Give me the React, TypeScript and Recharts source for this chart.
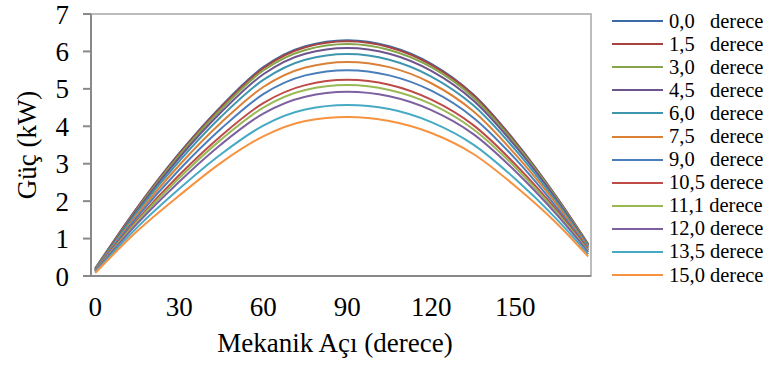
import { LineChart, Line, XAxis, YAxis, ReferenceArea } from 'recharts';

const angles = [0, 15, 30, 45, 60, 75, 90, 105, 120, 135, 150, 165, 176];

const deg00 = [0.2, 1.83, 3.28, 4.54, 5.58, 6.14, 6.3, 6.14, 5.67, 4.85, 3.59, 2.08, 0.85];
const deg15 = [0.2, 1.82, 3.26, 4.51, 5.55, 6.11, 6.27, 6.11, 5.64, 4.83, 3.57, 2.07, 0.85];
const deg30 = [0.19, 1.79, 3.22, 4.46, 5.49, 6.04, 6.2, 6.04, 5.58, 4.77, 3.53, 2.05, 0.83];
const deg45 = [0.18, 1.76, 3.16, 4.38, 5.39, 5.94, 6.09, 5.94, 5.48, 4.69, 3.47, 2.01, 0.81];
const deg60 = [0.17, 1.71, 3.07, 4.26, 5.24, 5.78, 5.93, 5.78, 5.33, 4.56, 3.37, 1.95, 0.79];
const deg75 = [0.16, 1.64, 2.96, 4.1, 5.05, 5.57, 5.72, 5.58, 5.15, 4.4, 3.25, 1.89, 0.76];
const deg90 = [0.15, 1.58, 2.84, 3.94, 4.86, 5.36, 5.5, 5.36, 4.95, 4.23, 3.13, 1.81, 0.73];
const deg105 = [0.14, 1.5, 2.7, 3.75, 4.62, 5.1, 5.24, 5.11, 4.71, 4.03, 2.98, 1.73, 0.69];
const deg111 = [0.13, 1.46, 2.62, 3.65, 4.5, 4.97, 5.1, 4.97, 4.59, 3.92, 2.9, 1.68, 0.67];
const deg120 = [0.12, 1.4, 2.52, 3.52, 4.34, 4.79, 4.92, 4.8, 4.43, 3.79, 2.8, 1.62, 0.64];
const deg135 = [0.1, 1.3, 2.33, 3.26, 4.02, 4.45, 4.57, 4.46, 4.11, 3.51, 2.59, 1.5, 0.58];
const deg150 = [0.08, 1.2, 2.15, 3.03, 3.73, 4.14, 4.25, 4.14, 3.82, 3.26, 2.4, 1.39, 0.52];

const seriesNames = ['0,0   derece', '1,5   derece', '3,0   derece', '4,5   derece', '6,0   derece', '7,5   derece',
  '9,0   derece', '10,5 derece', '11,1 derece', '12,0 derece', '13,5 derece', '15,0 derece'];
const seriesValues = [deg00, deg15, deg30, deg45, deg60, deg75, deg90, deg105, deg111, deg120, deg135, deg150];
const colors = ['#3C6AA5', '#A8423F', '#86A44A', '#6E548D', '#3D96AE', '#DA8137',
  '#4A7EBB', '#BE4B48', '#98B954', '#7D60A0', '#46AAC5', '#F69240'];

const xTicks = [0, 30, 60, 90, 120, 150];
const yTicks = [0, 1, 2, 3, 4, 5, 6, 7];

const data = angles.map((a, i) => {
  const row: Record<string, number> = { angle: a };
  seriesValues.forEach((s, k) => { row[`s${k}`] = s[i]; });
  return row;
});

const FONT = '"Liberation Serif", "Times New Roman", serif';

function LegendBox() {
  return (
    <div style={{ position: 'absolute', left: 612, top: 9.5, fontFamily: FONT, fontSize: 20.5, color: '#000' }}>
      {seriesNames.map((n, i) => (
        <div key={n} style={{ display: 'flex', alignItems: 'center', height: 23.1 }}>
          <div style={{ width: 51, height: 2, background: colors[i], marginRight: 6 }} />
          <span style={{ whiteSpace: 'pre', lineHeight: '23px' }}>{n}</span>
        </div>
      ))}
    </div>
  );
}

export default function App() {
  return (
    <div style={{ position: 'absolute', left: 0, top: 0, width: 773, height: 367, background: '#fff', fontFamily: FONT }}>
      <LineChart width={773} height={367} data={data} margin={{ top: 14, right: 182, left: 0, bottom: 0 }} style={{ fontFamily: FONT }}>
        <XAxis
          dataKey="angle"
          type="number"
          domain={[-1.5, 177]}
          ticks={xTicks}
          interval={0}
          allowDataOverflow
          height={91}
          tickLine={false}
          tickSize={0}
          tickMargin={21}
          axisLine={{ stroke: '#898989', strokeWidth: 2 }}
          tick={{ fill: '#000', fontSize: 27, fontFamily: FONT }}
          label={{
            content: () => (
              <text x={335} y={343} textAnchor="middle" dominantBaseline="central" fontSize={27} fontFamily={FONT} fill="#000">
                Mekanik Açı (derece)
              </text>
            ),
          }}
        />
        <YAxis
          type="number"
          domain={[0, 7]}
          ticks={yTicks}
          interval={0}
          width={91}
          tickSize={8}
          tickMargin={14}
          tickLine={{ stroke: '#898989', strokeWidth: 2 }}
          axisLine={{ stroke: '#898989', strokeWidth: 2 }}
          tick={{ fill: '#000', fontSize: 27, fontFamily: FONT }}
          label={{
            content: () => (
              <text x={27} y={145} transform="rotate(-90 27 145)" textAnchor="middle" dominantBaseline="central" fontSize={27} fontFamily={FONT} fill="#000">
                Güç (kW)
              </text>
            ),
          }}
        />
        <ReferenceArea x1={-1.5} x2={177} y1={0} y2={7} fill="none" stroke="#A6A6A6" strokeWidth={1.5} ifOverflow="visible" />
        {seriesValues.map((_, k) => (
          <Line
            key={k}
            type="monotone"
            dataKey={`s${k}`}
            name={seriesNames[k]}
            stroke={colors[k]}
            strokeWidth={2}
            dot={false}
            isAnimationActive={false}
          />
        ))}
      </LineChart>
      <LegendBox />
    </div>
  );
}
